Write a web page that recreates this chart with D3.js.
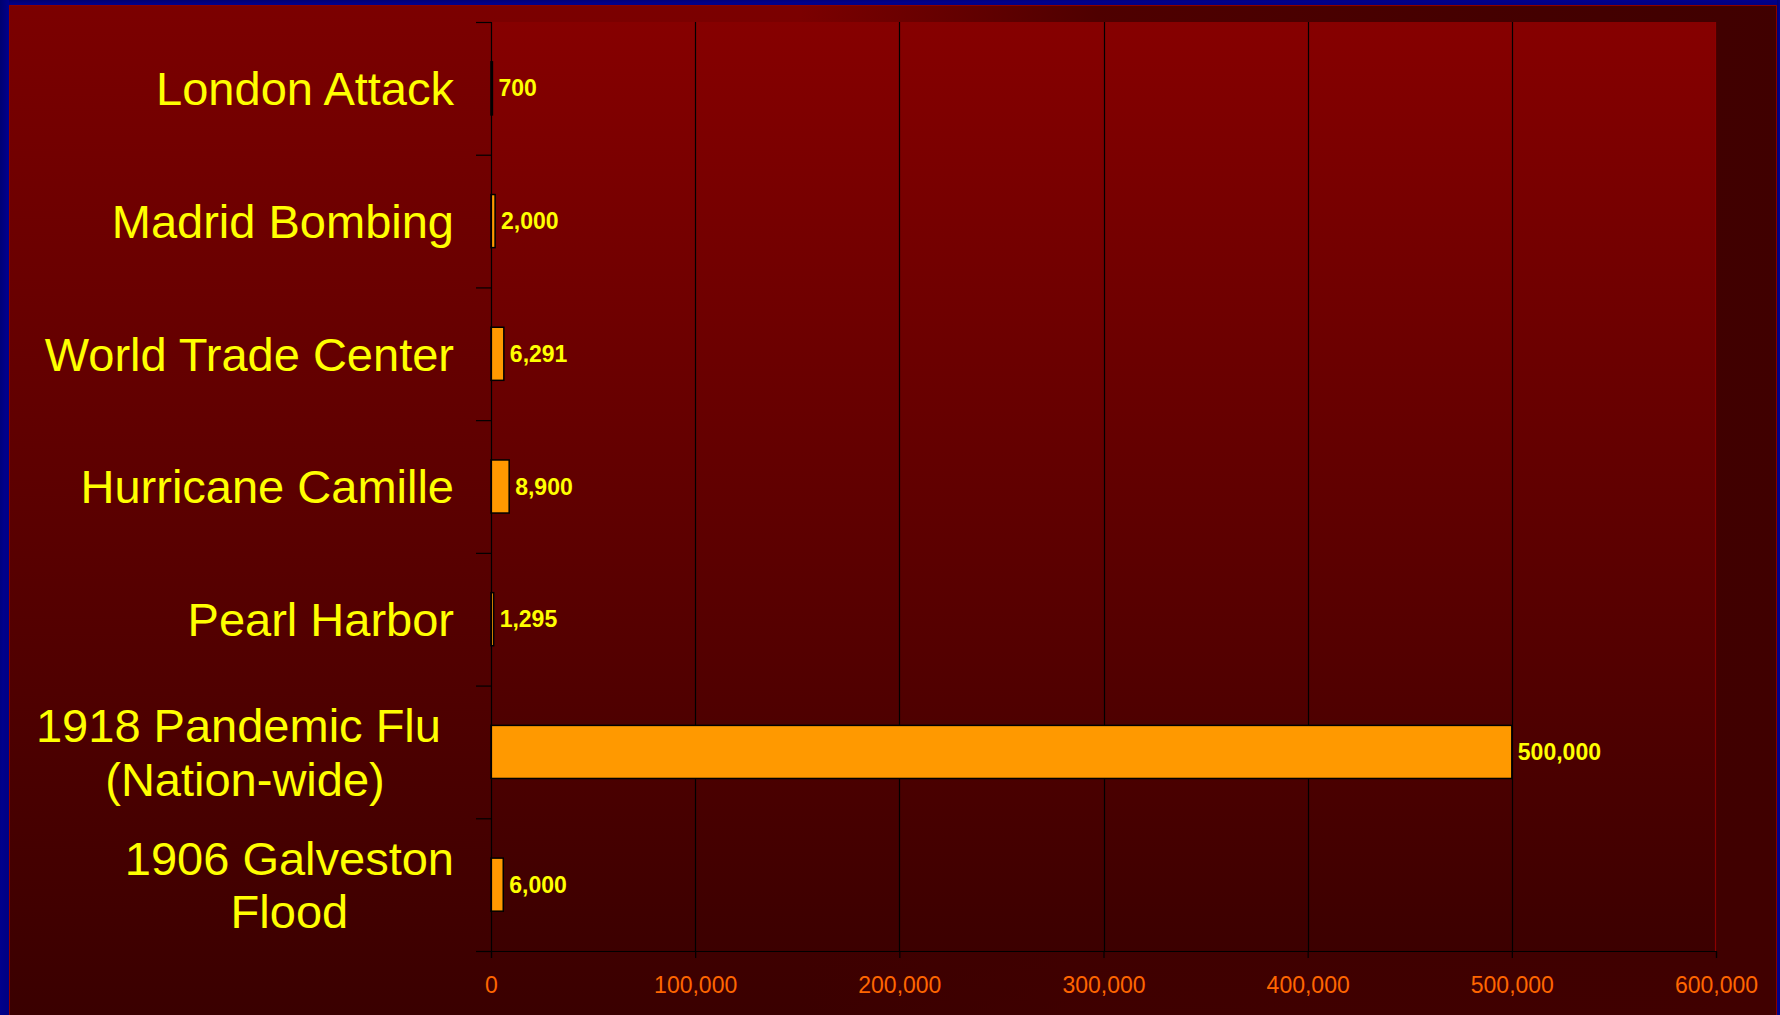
<!DOCTYPE html>
<html>
<head>
<meta charset="utf-8">
<script src="https://cdn.jsdelivr.net/npm/d3@7"></script>
<style>
  html, body { margin: 0; padding: 0; background: #3a0000; overflow: hidden; }
  text { font-family: Arial, "Liberation Sans", sans-serif; }
</style>
</head>
<body>
<div id="chart"></div>
<script>
// data
var categories = ["London Attack", "Madrid Bombing", "World Trade Center", "Hurricane Camille",
                  "Pearl Harbor", "1918 Pandemic Flu \n(Nation-wide)", "1906 Galveston\nFlood"];
var deaths = [700, 2000, 6291, 8900, 1295, 500000, 6000];
var xTicks = [0, 100000, 200000, 300000, 400000, 500000, 600000];

var W = 1780, H = 1015;
var plot = {left: 491, right: 1716, top: 22, bottom: 951};

var svg = d3.select("#chart").append("svg")
    .attr("width", W)
    .attr("height", H);

var defs = svg.append("defs");

// slide background: red at the top fading down, darker toward the right
var bgV = defs.append("linearGradient").attr("id", "bgV")
    .attr("x1", 0).attr("y1", 0).attr("x2", 0).attr("y2", 1);
bgV.append("stop").attr("offset", "0%").attr("stop-color", "#7c0000");
bgV.append("stop").attr("offset", "100%").attr("stop-color", "#3a0000");

var bgH = defs.append("linearGradient").attr("id", "bgH")
    .attr("gradientUnits", "userSpaceOnUse")
    .attr("x1", 0).attr("y1", 0).attr("x2", W).attr("y2", 0);
bgH.append("stop").attr("offset", 800 / W).attr("stop-color", "#400000").attr("stop-opacity", 0);
bgH.append("stop").attr("offset", 1100 / W).attr("stop-color", "#400000").attr("stop-opacity", 0.75);
bgH.append("stop").attr("offset", 1500 / W).attr("stop-color", "#400000").attr("stop-opacity", 0.92);
bgH.append("stop").attr("offset", 1).attr("stop-color", "#400000").attr("stop-opacity", 1);

var plotG = defs.append("linearGradient").attr("id", "plotG")
    .attr("x1", 0).attr("y1", 0).attr("x2", 0).attr("y2", 1);
plotG.append("stop").attr("offset", "0%").attr("stop-color", "#860000");
plotG.append("stop").attr("offset", "100%").attr("stop-color", "#3c0000");

var blueG = defs.append("linearGradient").attr("id", "blueG")
    .attr("x1", 0).attr("y1", 0).attr("x2", 1).attr("y2", 1);
blueG.append("stop").attr("offset", "0%").attr("stop-color", "#00006e");
blueG.append("stop").attr("offset", "50%").attr("stop-color", "#00008c");
blueG.append("stop").attr("offset", "100%").attr("stop-color", "#000080");

svg.append("rect").attr("width", W).attr("height", H).attr("fill", "url(#bgV)");
svg.append("rect").attr("width", W).attr("height", H).attr("fill", "url(#bgH)");

// blue frame with a thin red inner edge
svg.append("rect").attr("x", 0).attr("y", 0).attr("width", W).attr("height", 5).attr("fill", "url(#blueG)");
svg.append("rect").attr("x", 0).attr("y", 0).attr("width", 9).attr("height", H).attr("fill", "url(#blueG)");
svg.append("rect").attr("x", 1777).attr("y", 0).attr("width", 3).attr("height", H).attr("fill", "url(#blueG)");
svg.append("line").attr("x1", 9.5).attr("x2", 9.5).attr("y1", 5).attr("y2", H)
    .attr("stroke", "#8a0000").attr("stroke-width", 1);
svg.append("line").attr("x1", 9).attr("x2", 1777).attr("y1", 5.5).attr("y2", 5.5)
    .attr("stroke", "#8a0000").attr("stroke-width", 1);
svg.append("line").attr("x1", 1776.5).attr("x2", 1776.5).attr("y1", 5).attr("y2", H)
    .attr("stroke", "#8a0000").attr("stroke-width", 1);

// plot area
svg.append("rect")
    .attr("x", plot.left).attr("y", plot.top)
    .attr("width", plot.right - plot.left).attr("height", plot.bottom - plot.top)
    .attr("fill", "url(#plotG)");
svg.append("line")
    .attr("x1", plot.right - 0.5).attr("x2", plot.right - 0.5)
    .attr("y1", plot.top).attr("y2", plot.bottom)
    .attr("stroke", "#8c0000").attr("stroke-width", 1.2);

// scales
var x = d3.scaleLinear().domain([0, 600000]).range([plot.left, plot.right]);
var y = d3.scaleBand().domain(categories).range([plot.top, plot.bottom])
    .paddingInner(0.6).paddingOuter(0.3);
var slot = d3.scaleLinear().domain([0, categories.length]).range([plot.top, plot.bottom]);

// gridlines
svg.append("g").selectAll("line.grid")
    .data(xTicks.filter(function(d) { return d > 0 && d < 600000; }))
  .enter().append("line")
    .attr("class", "grid")
    .attr("x1", function(d) { return Math.round(x(d)) + 0.5; })
    .attr("x2", function(d) { return Math.round(x(d)) + 0.5; })
    .attr("y1", plot.top).attr("y2", plot.bottom)
    .attr("stroke", "#000").attr("stroke-width", 1.2);

// bars
svg.append("g").selectAll("rect.bar")
    .data(deaths)
  .enter().append("rect")
    .attr("class", "bar")
    .attr("x", x(0))
    .attr("y", function(d, i) { return y(categories[i]); })
    .attr("width", function(d) { return x(d) - x(0); })
    .attr("height", y.bandwidth())
    .attr("fill", "#ff9900")
    .attr("stroke", "#000")
    .attr("stroke-width", 1.5);

// value labels
svg.append("g").selectAll("text.val")
    .data(deaths)
  .enter().append("text")
    .attr("class", "val")
    .attr("x", function(d) { return x(d) + 6; })
    .attr("y", function(d, i) { return y(categories[i]) + y.bandwidth() / 2 + 8; })
    .attr("fill", "#ffff00")
    .attr("font-weight", "bold")
    .attr("font-size", 23)
    .text(function(d) { return d3.format(",")(d); });

// x axis
var xAxis = svg.append("g")
    .attr("transform", "translate(0," + plot.bottom + ")")
    .call(d3.axisBottom(x).tickValues(xTicks).tickSize(7).tickPadding(19)
      .tickFormat(d3.format(",")));
xAxis.select(".domain").attr("stroke", "#000").attr("stroke-width", 1.2);
xAxis.selectAll(".tick line").attr("stroke", "#000").attr("stroke-width", 1.2);
xAxis.selectAll(".tick text")
    .attr("fill", "#ff6600")
    .attr("font-size", 23)
    .attr("font-family", "Arial, 'Liberation Sans', sans-serif");

// y axis: ticks on the category boundaries
var yAxis = svg.append("g")
    .attr("transform", "translate(" + plot.left + ",0)")
    .call(d3.axisLeft(slot).ticks(categories.length).tickSize(15).tickFormat(""));
yAxis.select(".domain").attr("stroke", "#000").attr("stroke-width", 1.2);
yAxis.selectAll(".tick line").attr("stroke", "#000").attr("stroke-width", 1.2);

// category labels, block right aligned, lines centred in the block
var labelRight = 454, labelSize = 47, lineH = 53.5;
var labels = svg.append("g");
categories.forEach(function(c, i) {
  var lines = c.split("\n");
  var t = labels.append("text")
      .attr("fill", "#ffff00")
      .attr("font-size", labelSize)
      .attr("xml:space", "preserve")
      .style("white-space", "pre");
  var cy = y(c) + y.bandwidth() / 2 + 0.36 * labelSize;
  var spans = lines.map(function(l, j) {
    return t.append("tspan")
        .attr("y", cy + (j - (lines.length - 1) / 2) * lineH)
        .text(l);
  });
  var w = d3.max(spans, function(s) { return s.node().getComputedTextLength(); });
  spans.forEach(function(s) {
    s.attr("x", labelRight - w / 2).attr("text-anchor", "middle");
  });
});
</script>
</body>
</html>
